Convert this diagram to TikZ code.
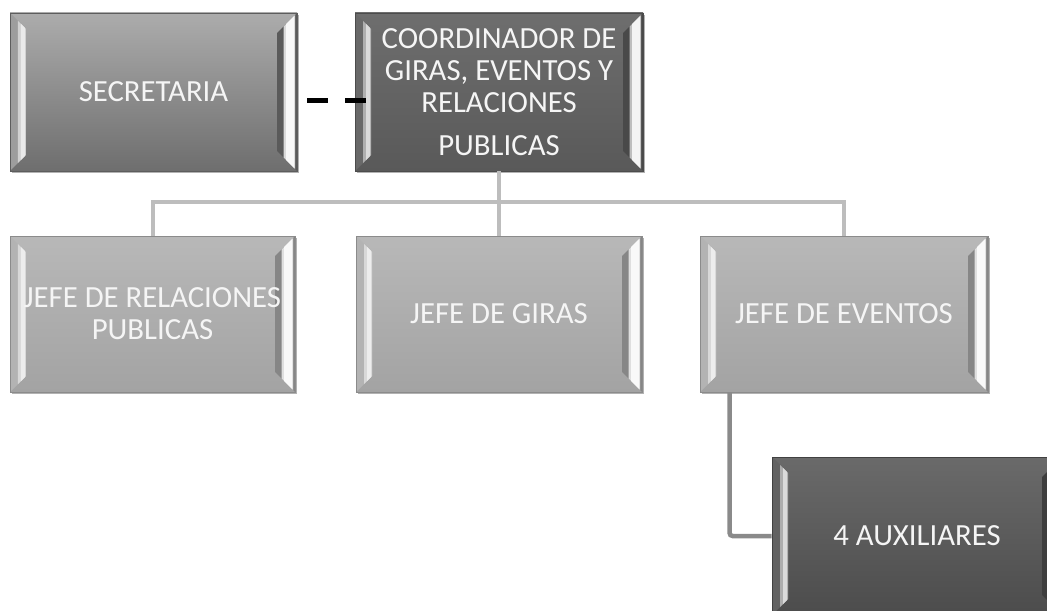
\documentclass[tikz,border=0pt]{standalone}
\usepackage{fontspec}
\setmainfont{Carlito}
\usetikzlibrary{shadows,calc}
\newdimen\pxu \pxu=0.02cm
\definecolor{secT}{HTML}{ACACAC}
\definecolor{secB}{HTML}{6E6E6E}
\definecolor{coT}{HTML}{6E6E6E}
\definecolor{coB}{HTML}{595959}
\definecolor{jT}{HTML}{B8B8B8}
\definecolor{jB}{HTML}{A3A3A3}
\definecolor{auT}{HTML}{6A6A6A}
\definecolor{auB}{HTML}{4C4C4C}
\definecolor{treeC}{HTML}{BDBDBD}
\definecolor{elbC}{HTML}{8A8A8A}
\definecolor{txtC}{HTML}{F5F5F5}
\tikzset{
  bevelbox/.style n args={2}{rectangle, inner sep=0pt, align=center,
    top color=#1, bottom color=#2, draw=#2!85!black, line width=0.5pt,
    text=txtC, font=\fontsize{17.5}{18.2}\selectfont,
    drop shadow={shadow xshift=1pt, shadow yshift=-1pt, fill=black, opacity=0.3},
    path picture={
      \coordinate (NW) at (path picture bounding box.north west);
      \coordinate (SW) at (path picture bounding box.south west);
      \coordinate (NE) at (path picture bounding box.north east);
      \coordinate (SE) at (path picture bounding box.south east);
      % left bevel
      \fill[#1!75!#2] (SW) -- (NW) -- ([shift={(0.32cm,-0.32cm)}]NW) -- ([shift={(0.32cm,0.32cm)}]SW) -- cycle;
      \fill[white!45!#1] ([shift={(0.16cm,-0.16cm)}]NW) -- ([shift={(0.32cm,-0.32cm)}]NW) -- ([shift={(0.32cm,0.32cm)}]SW) -- ([shift={(0.16cm,0.16cm)}]SW) -- cycle;
      \fill[white!75!#1] ([shift={(0.22cm,-0.22cm)}]NW) -- ([shift={(0.30cm,-0.30cm)}]NW) -- ([shift={(0.30cm,0.30cm)}]SW) -- ([shift={(0.22cm,0.22cm)}]SW) -- cycle;
      % right bevel
      \fill[#2!82!black] (SE) -- (NE) -- ([shift={(-0.40cm,-0.40cm)}]NE) -- ([shift={(-0.40cm,0.40cm)}]SE) -- cycle;
      \fill[white!55!#1] ([shift={(-0.04cm,-0.04cm)}]NE) -- ([shift={(-0.27cm,-0.27cm)}]NE) -- ([shift={(-0.27cm,0.27cm)}]SE) -- ([shift={(-0.04cm,0.04cm)}]SE) -- cycle;
      \fill[white!92!#1] ([shift={(-0.06cm,-0.06cm)}]NE) -- ([shift={(-0.22cm,-0.22cm)}]NE) -- ([shift={(-0.22cm,0.22cm)}]SE) -- ([shift={(-0.06cm,0.06cm)}]SE) -- cycle;
    }},
  treeline/.style={draw=treeC, line width=4\pxu},
  elbline/.style={draw=elbC, line width=4.5\pxu, rounded corners=3\pxu},
  dashline/.style={draw=black, line width=5\pxu, dash pattern=on 21\pxu off 17\pxu}
}
\begin{document}
\begin{tikzpicture}[x=0.02cm,y=-0.02cm]
\useasboundingbox (0,0) rectangle (1047,611);
\clip (0,0) rectangle (1047,611);
\node[bevelbox={secT}{secB}, minimum width=287\pxu, minimum height=158\pxu] (sec) at (153.5,92) {SECRETARIA};
\node[bevelbox={coT}{coB}, minimum width=288\pxu, minimum height=158\pxu] (coord) at (499,92) {COORDINADOR DE\\GIRAS, EVENTOS Y\\RELACIONES\\[6pt]PUBLICAS};
\node[bevelbox={jT}{jB}, minimum width=285\pxu, minimum height=156\pxu] (jrp) at (152.5,314) {JEFE DE RELACIONES\\PUBLICAS};
\node[bevelbox={jT}{jB}, minimum width=286\pxu, minimum height=156\pxu] (jg) at (499,314) {JEFE DE GIRAS};
\node[bevelbox={jT}{jB}, minimum width=288\pxu, minimum height=156\pxu] (je) at (844,314) {JEFE DE EVENTOS};
\node[bevelbox={auT}{auB}, minimum width=290\pxu, minimum height=158\pxu] (aux) at (917,536) {4 AUXILIARES};
\coordinate (bar) at (499,202);
\draw[treeline] (coord.south) -- (jg.north);
\draw[treeline] (jrp.north) |- (bar) -| (je.north);
\draw[elbline] ([xshift=30\pxu]je.south west) |- (aux.west);
\draw[dashline] ([shift={(10\pxu,-9\pxu)}]sec.east) -- ([shift={(11\pxu,-9\pxu)}]coord.west);
\end{tikzpicture}
\end{document}
